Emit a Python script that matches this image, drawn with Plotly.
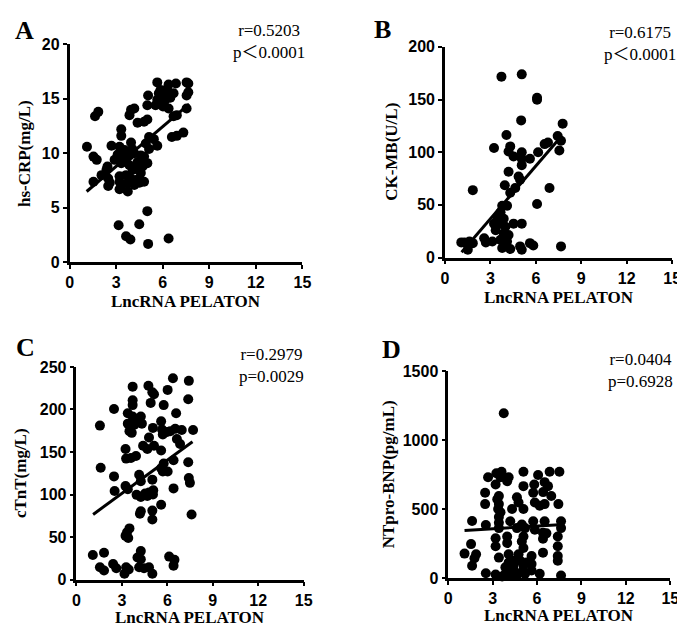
import plotly.graph_objects as go

# ---------------- data ----------------
A_x = [5.65, 6.38, 6.85, 7.54, 7.65, 6.28, 5.86, 5.75, 6.17, 6.70, 7.65, 7.54, 5.06, 5.65, 6.17, 6.49,
       5.01, 5.54, 6.02, 6.38, 7.54, 6.91, 6.70, 1.85, 1.64, 3.96, 4.17, 3.86, 4.38, 5.01, 4.80, 3.33,
       3.33, 1.12, 1.54, 1.75, 2.70, 3.22, 3.96, 5.12, 5.43, 4.91, 5.65, 5.12, 6.59, 6.91, 7.33, 3.33,
       3.54, 3.10, 3.86, 4.17, 4.59, 4.80, 3.22, 3.64, 4.38, 4.91, 2.44, 3.33, 3.86, 4.28, 4.70, 5.01,
       2.38, 4.07, 4.59, 2.06, 1.54, 2.49, 3.22, 3.64, 3.96, 4.38, 4.80, 2.59, 3.22, 3.75, 4.17, 2.49,
       3.33, 4.50, 3.22, 3.75, 5.01, 3.16, 4.49, 3.64, 3.92, 5.06, 6.38, 4.04, 2.90]
A_y = [16.5, 16.3, 16.4, 16.5, 16.4, 15.9, 15.8, 15.5, 15.3, 15.5, 15.6, 15.3, 15.3, 14.9, 14.9, 15.1,
       14.4, 14.4, 14.3, 14.1, 14.1, 13.5, 13.4, 13.8, 13.4, 14.0, 14.1, 13.5, 12.8, 13.1, 12.9, 12.2,
       11.6, 10.6, 9.7, 9.4, 10.7, 10.6, 11.0, 11.5, 11.3, 10.9, 10.7, 10.4, 11.5, 11.6, 11.9, 10.1,
       10.3, 9.9, 9.8, 10.0, 9.8, 9.7, 9.5, 9.4, 9.2, 9.1, 8.8, 9.1, 8.9, 8.8, 8.8, 9.1,
       8.5, 8.5, 8.2, 8.0, 7.4, 7.7, 7.9, 8.0, 7.7, 7.6, 7.4, 7.3, 7.4, 7.3, 7.1, 7.0,
       7.0, 7.3, 6.7, 6.5, 4.7, 3.4, 3.5, 2.4, 2.1, 1.7, 2.2, 10.4, 9.4]
A_fit_x = [1.1, 7.7]
A_fit_y = [6.5, 14.5]

B_x = [3.73, 5.07, 6.08, 6.08, 5.03, 7.77, 4.06, 3.24, 4.31, 4.20, 5.07, 5.07, 5.07, 5.61, 6.15, 6.58,
       6.80, 7.44, 7.66, 7.55, 4.20, 4.86, 4.96, 3.95, 6.90, 1.84, 4.31, 4.64, 3.78, 4.10, 6.08, 3.67,
       3.45, 3.88, 3.24, 3.67, 3.99, 4.53, 5.07, 3.35, 3.88, 4.20, 2.59, 3.13, 3.67, 4.10, 1.08, 1.62,
       1.84, 1.51, 2.70, 3.78, 4.31, 4.96, 5.61, 5.83, 7.66, 5.07, 1.30, 4.53]
B_y = [171.7, 173.9, 151.7, 149.9, 130.2, 127.1, 116.3, 104.0, 105.5, 100.6, 100.0, 93.8, 87.7, 93.8, 100.0, 107.7,
       109.2, 115.4, 110.8, 101.6, 81.5, 76.9, 73.8, 68.6, 66.1, 64.0, 61.5, 66.0, 49.2, 49.2, 50.8, 43.0,
       38.3, 36.8, 32.2, 32.2, 29.2, 32.2, 32.2, 26.0, 22.9, 21.4, 18.3, 15.2, 16.8, 15.2, 14.4, 15.2,
       13.7, 7.5, 14.4, 9.1, 8.2, 10.6, 13.7, 11.5, 10.6, 7.5, 14.4, 96.0]
B_fit_x = [1.1, 7.5]
B_fit_y = [5.0, 112.0]

C_x = [6.37, 7.42, 3.71, 4.75, 5.01, 5.12, 6.02, 7.38, 3.71, 3.71, 4.90, 5.76, 2.48, 6.58, 3.39, 3.71,
       4.25, 4.03, 1.55, 3.39, 3.82, 4.32, 3.50, 5.59, 5.05, 5.65, 5.70, 6.19, 6.52, 6.95, 7.70, 5.98,
       3.65, 6.63, 4.79, 6.84, 7.38, 5.12, 3.24, 4.40, 4.68, 5.59, 3.28, 3.60, 3.93, 1.60, 5.59, 5.76,
       6.41, 6.02, 5.70, 2.48, 4.14, 4.25, 5.01, 7.42, 7.49, 3.24, 3.39, 2.52, 5.07, 4.79, 3.97, 4.53,
       6.41, 4.68, 4.25, 5.05, 5.59, 4.25, 5.01, 4.19, 5.01, 7.60, 3.50, 3.34, 3.24, 3.42, 1.08, 1.82,
       4.25, 4.03, 6.12, 6.47, 6.41, 1.55, 1.82, 2.42, 2.63, 3.28, 3.17, 3.45, 4.14, 4.46, 4.79, 5.01,
       4.25]
C_y = [236.7, 233.6, 226.8, 227.9, 220.3, 217.8, 223.0, 211.9, 210.8, 205.1, 207.7, 205.1, 200.5, 195.6, 195.6, 191.8,
       191.8, 188.0, 181.0, 183.3, 182.1, 183.3, 174.5, 186.0, 178.3, 176.4, 170.6, 174.5, 177.2, 175.9, 175.9, 173.6,
       172.5, 165.3, 167.0, 159.4, 138.0, 157.4, 153.6, 157.4, 153.6, 151.7, 142.2, 142.9, 145.2, 131.5, 130.8, 136.5,
       140.3, 127.0, 127.0, 121.3, 123.2, 115.6, 117.5, 119.4, 113.7, 109.9, 106.1, 104.2, 105.0, 102.3, 99.6, 101.1,
       107.2, 98.4, 97.2, 100.0, 88.0, 80.4, 81.1, 77.3, 70.6, 76.5, 60.2, 55.6, 51.4, 48.8, 28.9, 31.6,
       33.5, 25.9, 27.0, 23.2, 16.4, 14.5, 10.7, 18.3, 13.3, 14.5, 6.9, 11.8, 14.5, 13.3, 14.5, 6.9,
       24.0]
C_fit_x = [1.1, 7.66]
C_fit_y = [76.6, 162.0]

D_x = [3.75, 2.69, 3.25, 3.60, 3.53, 4.08, 5.08, 6.07, 6.85, 7.51, 3.20, 3.98, 6.51, 5.08, 5.81, 6.74,
       2.49, 3.42, 5.74, 6.41, 6.96, 2.49, 3.31, 3.42, 4.64, 4.75, 5.85, 6.51, 7.44, 3.37, 3.53, 4.31,
       5.08, 6.18, 3.42, 1.61, 2.54, 3.42, 4.19, 4.97, 5.74, 6.51, 7.62, 3.42, 4.64, 5.19, 5.85, 6.40,
       7.62, 3.20, 3.98, 5.08, 6.63, 7.40, 3.98, 4.97, 6.40, 1.54, 5.08, 1.10, 1.88, 3.42, 4.08, 4.75,
       5.63, 6.40, 7.40, 7.40, 1.77, 1.61, 4.08, 4.41, 4.86, 5.30, 3.86, 4.41, 5.08, 5.63, 2.54, 3.20,
       3.86, 4.41, 4.97, 5.63, 6.18, 7.62, 4.19, 3.64, 4.64, 5.19, 4.19, 3.20, 7.40]
D_y = [1194, 731, 760, 771, 731, 731, 771, 747, 771, 771, 678, 702, 695, 666, 678, 666,
       618, 595, 618, 623, 595, 536, 571, 536, 585, 548, 548, 536, 536, 501, 477, 501,
       501, 524, 442, 414, 385, 400, 411, 388, 411, 411, 411, 362, 362, 362, 350, 329,
       362, 289, 301, 301, 324, 301, 254, 265, 285, 246, 218, 177, 172, 148, 172, 172,
       160, 184, 160, 125, 143, 89, 113, 125, 125, 113, 78, 90, 90, 101, 35, 26,
       31, 54, 43, 54, 31, 19, 19, 12, 19, 31, 54, 230, 230]
D_fit_x = [1.1, 7.8]
D_fit_y = [345, 388]

x_ticks = [0, 3, 6, 9, 12, 15]
x_title = "LncRNA PELATON"

# ---------------- layout helpers ----------------
W, H = 685, 627
def px_x(p):
    return p / W
def px_y(p):
    return 1 - p / H

SANS = "Liberation Sans, Arial, sans-serif"
SERIF = "Liberation Serif, Times New Roman, Noto Sans CJK SC, serif"

panels = [
    dict(letter="A", x=A_x, y=A_y, fx=A_fit_x, fy=A_fit_y, box=(58.7, 296.0, 29.0, 253.3),
         yr=20, ydt=5, ytitle="hs-CRP(mg/L)", r="r=0.5203", p="p＜0.0001",
         letter_pos=(13, 15), stat_x=262, stat_y=26.5, ytitle_x=13, xtitle_y=293),
    dict(letter="B", x=B_x, y=B_y, fx=B_fit_x, fy=B_fit_y, box=(441.3, 673.0, 31.7, 248.3),
         yr=200, ydt=50, ytitle="CK-MB(U/L)", r="r=0.6175", p="p＜0.0001",
         letter_pos=(378, 14), stat_x=640, stat_y=28, ytitle_x=387, xtitle_y=289),
    dict(letter="C", x=C_x, y=C_y, fx=C_fit_x, fy=C_fit_y, box=(65.7, 297.3, 360.7, 579.3),
         yr=250, ydt=50, ytitle="cTnT(mg/L)", r="r=0.2979", p="p=0.0029",
         letter_pos=(14, 341), stat_x=264.5, stat_y=359.5, ytitle_x=8, xtitle_y=618),
    dict(letter="D", x=D_x, y=D_y, fx=D_fit_x, fy=D_fit_y, box=(444.7, 671.0, 365.0, 577.7),
         yr=1500, ydt=500, ytitle="NTpro-BNP(pg/mL)", r="r=0.0404", p="p=0.6928",
         letter_pos=(387, 343), stat_x=640.5, stat_y=364, ytitle_x=384, xtitle_y=616),
]

fig = go.Figure()
layout = dict(
    width=W, height=H, margin=dict(l=0, r=0, t=0, b=0),
    paper_bgcolor="white", plot_bgcolor="white", showlegend=False,
)
annotations = []

for i, pnl in enumerate(panels, start=1):
    sfx = "" if i == 1 else str(i)
    x0, x1, y0, y1 = pnl["box"]
    y_ticks = list(range(0, pnl["yr"] + 1, pnl["ydt"]))
    tickfont = dict(family=SANS, size=16, color="black", weight=700)
    xa = dict(domain=[px_x(x0), px_x(x1)], range=[0, 15],
              tickvals=x_ticks, ticktext=["<b>%d</b>" % v for v in x_ticks],
              showline=True, linecolor="black", linewidth=2.5, mirror=False,
              ticks="outside", ticklen=4, tickwidth=2, tickcolor="black",
              showgrid=False, zeroline=False, anchor="y" + sfx, tickfont=tickfont)
    ya = dict(domain=[px_y(y1), px_y(y0)], range=[0, pnl["yr"]],
              tickvals=y_ticks, ticktext=["<b>%d</b>" % v for v in y_ticks],
              showline=True, linecolor="black", linewidth=2.5, mirror=False,
              ticks="outside", ticklen=4, tickwidth=2, tickcolor="black",
              showgrid=False, zeroline=False, anchor="x" + sfx, tickfont=tickfont)
    layout["xaxis" + sfx] = xa
    layout["yaxis" + sfx] = ya

    fig.add_trace(go.Scatter(x=pnl["x"], y=pnl["y"], mode="markers",
                             marker=dict(color="black", size=10, line=dict(width=0)),
                             cliponaxis=False, xaxis="x" + sfx, yaxis="y" + sfx))
    fig.add_trace(go.Scatter(x=pnl["fx"], y=pnl["fy"], mode="lines",
                             line=dict(color="black", width=3),
                             xaxis="x" + sfx, yaxis="y" + sfx))

    # panel letter
    lx, ly = pnl["letter_pos"]
    annotations.append(dict(text="<b>%s</b>" % pnl["letter"], x=px_x(lx), y=px_y(ly),
                            xref="paper", yref="paper",
                            showarrow=False, xanchor="center", yanchor="middle",
                            font=dict(family=SERIF, size=26, color="black")))
    # statistics (two centred lines)
    annotations.append(dict(text=pnl["r"] + "<br>" + pnl["p"], x=px_x(pnl["stat_x"]), y=px_y(pnl["stat_y"]),
                            xref="paper", yref="paper", showarrow=False, align="center",
                            xanchor="center", yanchor="middle",
                            font=dict(family=SERIF, size=17, color="black")))
    # axis titles
    annotations.append(dict(text="<b>%s</b>" % x_title, x=px_x((x0 + x1) / 2), y=px_y(pnl["xtitle_y"]),
                            xref="paper", yref="paper", showarrow=False,
                            xanchor="center", yanchor="middle",
                            font=dict(family=SERIF, size=17, color="black")))
    annotations.append(dict(text="<b>%s</b>" % pnl["ytitle"], x=px_x(pnl["ytitle_x"]), y=px_y((y0 + y1) / 2),
                            xref="paper", yref="paper", showarrow=False, textangle=-90,
                            xanchor="center", yanchor="middle",
                            font=dict(family=SERIF, size=17, color="black")))

layout["annotations"] = annotations
fig.update_layout(**layout)
fig.write_html("out.html")
